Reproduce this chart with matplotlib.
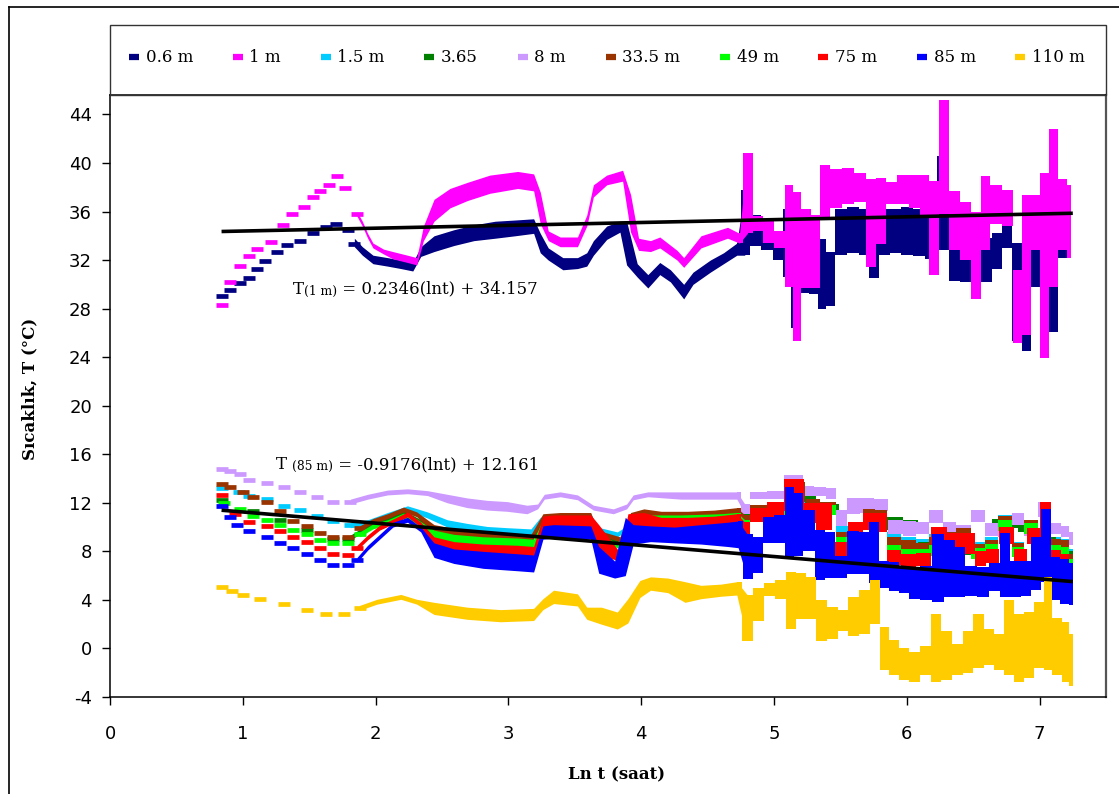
import numpy as np
import matplotlib.pyplot as plt
from matplotlib.lines import Line2D
from matplotlib.patches import Rectangle

plt.rcParams['axes.unicode_minus'] = False

# each row: ln t (saat), lowest and highest reading of the dash cluster at that time
T06 = [(0.84, 29.0, 29.0), (0.90, 29.5, 29.5), (0.98, 30.1, 30.1), (1.05, 30.5, 30.5),
       (1.11, 31.3, 31.3), (1.17, 31.9, 31.9), (1.26, 32.7, 32.7), (1.33, 33.2, 33.2),
       (1.43, 33.6, 33.6), (1.53, 34.2, 34.2), (1.63, 34.7, 34.7), (1.70, 35.0, 35.0),
       (1.79, 34.5, 34.8), (1.84, 33.3, 33.6), (1.90, 32.6, 32.9), (1.98, 31.9, 32.2),
       (2.09, 31.7, 32.0), (2.19, 31.5, 31.8), (2.28, 31.3, 31.6), (2.34, 32.5, 32.9),
       (2.44, 32.9, 33.8), (2.59, 33.4, 34.3), (2.74, 33.8, 34.7), (2.90, 34.0, 35.0),
       (3.05, 34.2, 35.1), (3.19, 34.4, 35.2), (3.24, 32.8, 34.0), (3.30, 32.2, 32.8),
       (3.41, 31.4, 32.0), (3.52, 31.5, 32.0), (3.59, 31.7, 32.4), (3.64, 32.6, 33.4),
       (3.74, 33.9, 34.6), (3.84, 34.5, 35.0), (3.89, 31.8, 35.0), (3.97, 30.8, 31.5),
       (4.05, 29.9, 30.6), (4.14, 31.0, 31.6), (4.22, 30.4, 31.0), (4.32, 29.0, 29.8),
       (4.39, 30.2, 30.8), (4.52, 31.2, 31.8), (4.62, 31.9, 32.4), (4.72, 32.6, 33.2),
       (4.78, 32.6, 37.6), (4.86, 33.4, 35.5), (4.95, 33.0, 34.2), (5.03, 32.2, 33.8),
       (5.10, 30.8, 36.0), (5.16, 26.6, 35.5), (5.22, 29.5, 34.8), (5.30, 29.4, 35.5),
       (5.37, 28.2, 33.5), (5.42, 28.4, 32.5), (5.50, 32.6, 36.0), (5.60, 32.8, 36.2),
       (5.68, 32.6, 36.0), (5.75, 30.7, 34.5), (5.83, 32.6, 36.0), (5.92, 32.8, 36.0),
       (6.00, 32.6, 36.2), (6.10, 32.5, 36.0), (6.18, 32.3, 35.8), (6.28, 33.0, 40.4),
       (6.36, 30.5, 35.0), (6.44, 30.4, 34.2), (6.52, 31.5, 33.8), (6.60, 30.4, 33.6),
       (6.68, 31.5, 34.0), (6.76, 33.2, 35.4), (6.83, 25.5, 33.2), (6.90, 24.7, 30.0),
       (6.97, 30.0, 34.6), (7.04, 27.0, 34.0), (7.10, 26.3, 35.2), (7.17, 32.4, 35.4),
       (7.24, 32.6, 35.2)]

T1 = [(0.84, 28.3, 28.3), (0.90, 30.2, 30.2), (0.98, 31.5, 31.5), (1.05, 32.3, 32.3),
      (1.11, 32.9, 32.9), (1.21, 33.5, 33.5), (1.30, 34.9, 34.9), (1.37, 35.8, 35.8),
      (1.46, 36.4, 36.4), (1.53, 37.2, 37.2), (1.58, 37.7, 37.7), (1.65, 38.2, 38.2),
      (1.71, 38.9, 38.9), (1.77, 37.9, 38.7), (1.86, 35.8, 35.8), (1.90, 35.0, 35.0),
      (1.94, 34.0, 34.0), (1.98, 33.2, 33.2), (2.06, 32.7, 32.7), (2.13, 32.3, 32.5),
      (2.24, 32.0, 32.2), (2.31, 31.8, 32.0), (2.36, 33.8, 34.6), (2.44, 35.4, 36.8),
      (2.56, 36.5, 37.7), (2.69, 37.1, 38.2), (2.86, 37.7, 38.8), (3.07, 38.1, 39.1),
      (3.19, 37.9, 38.9), (3.24, 35.2, 37.4), (3.30, 33.8, 34.2), (3.39, 33.3, 33.7),
      (3.52, 33.3, 33.7), (3.59, 35.0, 35.5), (3.64, 37.4, 38.0), (3.74, 38.4, 38.8),
      (3.86, 38.7, 39.2), (3.92, 34.5, 37.2), (3.98, 33.0, 33.6), (4.07, 32.9, 33.4),
      (4.14, 33.2, 33.7), (4.27, 32.2, 32.6), (4.32, 31.6, 32.0), (4.45, 33.2, 33.8),
      (4.65, 34.0, 34.5), (4.74, 33.6, 34.0), (4.80, 34.4, 40.6), (4.88, 34.6, 35.4),
      (4.95, 33.6, 35.0), (5.05, 33.2, 34.2), (5.12, 30.0, 38.0), (5.17, 25.5, 37.4),
      (5.24, 29.9, 36.0), (5.31, 29.9, 35.5), (5.38, 35.5, 39.6), (5.46, 36.5, 39.3),
      (5.56, 36.8, 39.4), (5.65, 37.0, 39.0), (5.73, 31.6, 38.5), (5.80, 33.5, 38.6),
      (5.88, 36.8, 38.2), (5.97, 36.8, 38.8), (6.06, 36.5, 38.8), (6.14, 35.8, 38.8),
      (6.20, 31.0, 38.3), (6.28, 36.0, 45.0), (6.36, 33.0, 37.5), (6.44, 32.2, 36.6),
      (6.52, 29.0, 35.8), (6.59, 33.0, 38.7), (6.67, 35.2, 38.0), (6.76, 35.0, 37.6),
      (6.84, 25.4, 31.0), (6.90, 26.0, 37.2), (6.97, 33.0, 37.2), (7.04, 24.1, 39.0),
      (7.10, 30.0, 42.6), (7.17, 33.0, 38.5), (7.24, 32.4, 38.0)]

T15 = [(0.84, 13.2, 13.2), (0.97, 12.9, 12.9), (1.05, 12.6, 12.6), (1.18, 12.3, 12.3),
       (1.31, 11.7, 11.7), (1.43, 11.4, 11.4), (1.56, 10.95, 10.95), (1.68, 10.5, 10.5),
       (1.81, 10.15, 10.15), (1.94, 10.4, 10.4), (2.09, 11.0, 11.0), (2.24, 11.55, 11.55),
       (2.39, 10.95, 11.05), (2.54, 10.2, 10.4), (2.69, 9.9, 10.1), (2.84, 9.65, 9.85),
       (2.99, 9.55, 9.75), (3.17, 9.45, 9.65), (3.24, 10.6, 10.6), (3.34, 10.9, 10.9),
       (3.62, 10.9, 10.9), (3.67, 9.8, 9.8), (3.82, 9.4, 9.4), (3.92, 10.1, 10.1),
       (4.02, 11.0, 11.0), (4.30, 11.0, 11.0), (4.55, 11.0, 11.0), (4.72, 11.2, 11.2),
       (4.78, 10.8, 11.0), (4.86, 11.5, 11.5), (5.03, 11.6, 11.6), (5.12, 12.6, 13.2),
       (5.20, 12.6, 13.2), (5.25, 11.9, 12.0), (5.43, 11.6, 11.8), (5.50, 9.6, 9.9),
       (5.62, 10.0, 10.2), (5.72, 10.9, 11.2), (5.80, 10.8, 11.1), (5.90, 9.0, 9.4),
       (6.02, 8.6, 9.0), (6.12, 8.4, 8.8), (6.22, 8.9, 9.2), (6.32, 9.0, 9.5),
       (6.42, 9.2, 9.6), (6.54, 8.2, 8.6), (6.64, 8.6, 9.0), (6.74, 10.3, 10.8),
       (6.84, 8.2, 8.6), (6.93, 10.0, 10.4), (7.04, 9.0, 9.4), (7.12, 8.6, 9.0),
       (7.20, 8.4, 8.8), (7.25, 7.4, 8.0)]

T365 = [(0.84, 12.2, 12.2), (1.08, 11.3, 11.3), (1.28, 10.6, 10.6), (1.48, 9.8, 9.8),
        (1.68, 9.0, 9.0), (1.79, 9.0, 9.0), (1.98, 10.3, 10.3), (2.21, 11.2, 11.2),
        (2.44, 9.6, 9.8), (2.77, 9.0, 9.2), (3.17, 8.9, 9.1), (3.26, 10.5, 10.5),
        (3.62, 10.6, 10.6), (3.67, 9.4, 9.4), (3.84, 8.6, 8.6), (3.92, 10.6, 10.6),
        (4.30, 10.8, 10.9), (4.72, 10.9, 11.1), (5.03, 11.2, 11.4), (5.20, 12.3, 13.0),
        (5.43, 11.4, 11.7), (5.55, 9.0, 9.3), (5.80, 10.7, 11.0), (5.90, 10.0, 10.6),
        (6.05, 9.9, 10.4), (6.12, 8.3, 8.6), (6.32, 8.9, 9.2), (6.54, 7.9, 8.2),
        (6.74, 10.1, 10.5), (6.93, 9.8, 10.2), (7.04, 8.8, 9.0), (7.20, 8.1, 8.5),
        (7.25, 7.2, 7.8)]

T8 = [(0.84, 14.8, 14.8), (0.90, 14.6, 14.6), (0.98, 14.35, 14.35), (1.05, 13.9, 13.9),
      (1.18, 13.6, 13.6), (1.31, 13.3, 13.3), (1.43, 12.9, 12.9), (1.56, 12.45, 12.45),
      (1.68, 12.05, 12.05), (1.81, 12.1, 12.1), (1.94, 12.5, 12.5), (2.09, 12.85, 12.85),
      (2.24, 12.95, 12.95), (2.39, 12.8, 12.8), (2.54, 12.2, 12.5), (2.69, 11.8, 12.2),
      (2.84, 11.6, 12.0), (2.99, 11.5, 11.9), (3.14, 11.3, 11.6), (3.22, 11.7, 11.7),
      (3.27, 12.5, 12.5), (3.39, 12.7, 12.7), (3.52, 12.45, 12.45), (3.64, 11.6, 11.6),
      (3.79, 11.3, 11.3), (3.89, 11.7, 11.7), (3.94, 12.45, 12.45), (4.05, 12.7, 12.7),
      (4.30, 12.5, 12.7), (4.55, 12.5, 12.7), (4.72, 12.5, 12.7), (4.78, 11.3, 11.7),
      (4.86, 12.5, 12.7), (5.03, 12.5, 12.8), (5.12, 12.5, 14.1), (5.18, 12.5, 14.1),
      (5.25, 12.8, 13.2), (5.35, 12.8, 13.1), (5.43, 12.5, 13.0), (5.50, 10.3, 11.2),
      (5.60, 11.3, 12.2), (5.70, 11.4, 12.2), (5.80, 11.5, 12.1), (5.92, 9.6, 10.4),
      (6.02, 9.5, 10.3), (6.12, 9.6, 10.2), (6.22, 10.5, 11.2), (6.32, 9.6, 10.2),
      (6.42, 9.4, 10.0), (6.54, 10.6, 11.2), (6.64, 9.5, 10.1), (6.74, 9.4, 10.0),
      (6.84, 10.4, 11.0), (6.93, 9.5, 10.0), (7.04, 11.0, 11.9), (7.12, 9.6, 10.1),
      (7.20, 9.4, 9.9), (7.25, 8.7, 9.4)]

T335 = [(0.84, 13.55, 13.55), (0.90, 13.3, 13.3), (1.00, 12.85, 12.85), (1.08, 12.45, 12.45),
        (1.18, 12.05, 12.05), (1.28, 11.3, 11.3), (1.38, 10.5, 10.5), (1.48, 10.05, 10.05),
        (1.58, 9.55, 9.55), (1.68, 9.15, 9.15), (1.79, 9.2, 9.2), (1.88, 9.9, 9.9),
        (1.98, 10.5, 10.5), (2.09, 10.9, 10.9), (2.21, 11.45, 11.45), (2.31, 11.05, 11.05),
        (2.44, 9.6, 10.0), (2.59, 9.3, 9.7), (2.77, 9.0, 9.4), (2.94, 8.9, 9.3),
        (3.17, 8.9, 9.2), (3.26, 10.8, 10.9), (3.39, 10.8, 11.0), (3.62, 10.8, 11.0),
        (3.67, 9.55, 9.55), (3.84, 9.0, 9.0), (3.92, 11.0, 11.0), (4.02, 11.3, 11.3),
        (4.15, 10.9, 11.1), (4.35, 10.9, 11.1), (4.55, 10.9, 11.2), (4.72, 11.1, 11.4),
        (4.78, 10.5, 10.8), (4.86, 11.3, 11.6), (5.03, 11.4, 11.7), (5.12, 12.5, 13.5),
        (5.20, 12.5, 13.5), (5.26, 11.7, 12.1), (5.43, 11.5, 11.9), (5.50, 9.0, 9.4),
        (5.62, 9.6, 10.0), (5.72, 10.9, 11.3), (5.80, 10.8, 11.2), (5.90, 8.6, 9.0),
        (6.02, 8.3, 8.7), (6.12, 8.1, 8.5), (6.22, 8.6, 9.0), (6.32, 9.0, 9.4),
        (6.42, 9.3, 9.7), (6.54, 8.0, 8.4), (6.64, 8.3, 8.7), (6.74, 10.3, 10.7),
        (6.84, 8.1, 8.5), (6.93, 10.0, 10.4), (7.04, 8.6, 9.0), (7.12, 8.5, 8.8),
        (7.20, 8.3, 8.7), (7.25, 7.0, 7.6)]

T49 = [(0.86, 12.0, 12.0), (0.98, 11.45, 11.45), (1.08, 10.9, 10.9), (1.18, 10.55, 10.55),
       (1.28, 10.2, 10.2), (1.38, 9.8, 9.8), (1.48, 9.4, 9.4), (1.58, 8.95, 8.95),
       (1.68, 8.65, 8.65), (1.79, 8.7, 8.7), (1.88, 9.4, 9.4), (1.98, 10.05, 10.05),
       (2.09, 10.4, 10.4), (2.21, 10.95, 10.95), (2.31, 10.45, 10.45), (2.44, 9.0, 9.55),
       (2.59, 8.7, 9.2), (2.81, 8.4, 9.0), (3.07, 8.4, 8.9), (3.19, 8.3, 8.8),
       (3.26, 10.2, 10.4), (3.39, 10.3, 10.6), (3.62, 10.3, 10.6), (3.67, 9.2, 9.2),
       (3.84, 8.4, 8.4), (3.92, 10.3, 10.3), (4.02, 10.6, 10.8), (4.30, 10.5, 10.8),
       (4.60, 10.5, 10.9), (4.72, 10.7, 11.0), (4.78, 10.0, 10.4), (4.86, 10.9, 11.3),
       (5.03, 11.0, 11.4), (5.15, 12.2, 13.2), (5.26, 11.4, 11.8), (5.43, 11.2, 11.6),
       (5.50, 8.6, 9.0), (5.62, 9.2, 9.7), (5.72, 10.6, 11.0), (5.80, 10.5, 10.9),
       (5.90, 7.6, 8.3), (6.02, 7.4, 8.0), (6.12, 7.4, 8.0), (6.22, 7.8, 8.3),
       (6.32, 8.6, 9.1), (6.42, 8.9, 9.3), (6.54, 7.6, 8.1), (6.64, 7.9, 8.4),
       (6.74, 9.9, 10.4), (6.84, 7.7, 8.2), (6.93, 9.6, 10.1), (7.04, 8.2, 8.7),
       (7.12, 7.6, 8.3), (7.20, 7.5, 8.2), (7.25, 6.5, 7.2)]

T75 = [(0.84, 12.65, 12.65), (0.94, 11.05, 11.05), (1.05, 10.45, 10.45), (1.18, 10.05, 10.05),
       (1.28, 9.65, 9.65), (1.38, 9.2, 9.2), (1.48, 8.75, 8.75), (1.58, 8.3, 8.3),
       (1.68, 7.8, 7.8), (1.79, 7.7, 7.7), (1.86, 8.3, 8.3), (1.94, 9.15, 9.15),
       (2.03, 9.95, 9.95), (2.13, 10.45, 10.45), (2.24, 11.05, 11.05), (2.34, 10.2, 10.2),
       (2.44, 8.3, 9.0), (2.59, 8.0, 8.6), (2.81, 7.7, 8.4), (3.07, 7.6, 8.3),
       (3.19, 7.5, 8.2), (3.26, 9.8, 10.7), (3.34, 9.9, 10.8), (3.62, 9.8, 10.8),
       (3.68, 7.9, 10.0), (3.84, 7.4, 7.7), (3.90, 10.0, 10.9), (4.02, 10.2, 11.0),
       (4.15, 9.9, 10.6), (4.35, 9.9, 10.6), (4.55, 10.0, 10.7), (4.72, 10.2, 10.9),
       (4.78, 8.6, 10.2), (4.86, 10.6, 11.4), (5.03, 10.8, 11.9), (5.12, 11.5, 13.8),
       (5.19, 11.5, 13.8), (5.26, 10.5, 11.8), (5.38, 10.0, 11.8), (5.50, 7.6, 8.6),
       (5.62, 9.0, 10.2), (5.72, 10.0, 11.0), (5.80, 9.8, 11.0), (5.90, 7.1, 7.9),
       (6.02, 6.9, 7.6), (6.12, 7.0, 7.7), (6.24, 8.8, 9.8), (6.36, 8.5, 9.3),
       (6.46, 8.0, 9.3), (6.56, 7.0, 7.8), (6.64, 7.2, 8.0), (6.75, 8.8, 9.8),
       (6.86, 7.3, 8.0), (6.95, 8.8, 9.7), (7.05, 9.0, 11.9), (7.12, 7.0, 7.9),
       (7.20, 6.9, 7.6), (7.25, 5.3, 6.5)]

T85 = [(0.84, 11.7, 11.7), (0.90, 10.8, 10.8), (0.96, 10.2, 10.2), (1.05, 9.65, 9.65),
       (1.18, 9.2, 9.2), (1.28, 8.7, 8.7), (1.38, 8.3, 8.3), (1.48, 7.8, 7.8),
       (1.58, 7.3, 7.3), (1.68, 6.85, 6.85), (1.79, 6.85, 6.85), (1.86, 7.3, 7.3),
       (1.94, 8.3, 8.3), (2.03, 9.2, 9.2), (2.13, 10.2, 10.2), (2.24, 10.6, 10.6),
       (2.34, 9.8, 9.8), (2.44, 7.7, 8.5), (2.59, 7.2, 8.0), (2.81, 6.8, 7.8),
       (3.07, 6.6, 7.6), (3.19, 6.5, 7.5), (3.26, 9.2, 9.9), (3.34, 9.3, 10.0),
       (3.62, 9.2, 9.9), (3.68, 6.4, 8.2), (3.80, 6.0, 7.0), (3.88, 6.2, 10.6),
       (3.94, 8.8, 10.0), (4.07, 9.0, 9.9), (4.25, 8.9, 9.8), (4.45, 8.8, 10.0),
       (4.65, 8.6, 10.2), (4.73, 8.5, 10.3), (4.80, 5.9, 9.2), (4.88, 6.4, 9.0),
       (4.95, 8.9, 10.6), (5.05, 8.9, 10.8), (5.12, 7.6, 13.1), (5.18, 7.8, 12.6),
       (5.26, 8.2, 11.2), (5.35, 5.8, 9.6), (5.42, 6.0, 9.4), (5.50, 6.0, 7.4),
       (5.60, 6.3, 9.5), (5.68, 6.3, 9.4), (5.75, 5.6, 10.2), (5.83, 5.2, 7.0),
       (5.90, 4.9, 6.9), (5.98, 4.8, 6.5), (6.06, 4.3, 6.5), (6.14, 4.2, 6.6),
       (6.24, 4.0, 9.2), (6.32, 4.4, 8.7), (6.40, 4.4, 8.2), (6.48, 4.5, 6.6),
       (6.58, 4.4, 6.5), (6.66, 4.9, 6.8), (6.74, 4.4, 9.3), (6.82, 4.4, 7.0),
       (6.90, 4.5, 7.0), (6.97, 5.0, 9.0), (7.05, 5.7, 11.3), (7.12, 4.2, 7.3),
       (7.19, 3.9, 7.2), (7.25, 3.8, 6.8)]

T110 = [(0.84, 5.1, 5.1), (0.92, 4.7, 4.7), (1.00, 4.4, 4.4), (1.13, 4.1, 4.1),
        (1.31, 3.7, 3.7), (1.48, 3.2, 3.2), (1.63, 2.8, 2.8), (1.76, 2.8, 2.8),
        (1.88, 3.35, 3.35), (2.01, 3.85, 3.85), (2.19, 4.25, 4.25), (2.31, 3.85, 3.85),
        (2.44, 3.0, 3.6), (2.69, 2.6, 3.2), (2.94, 2.4, 3.0), (3.19, 2.5, 3.1),
        (3.26, 3.4, 3.9), (3.34, 3.9, 4.6), (3.52, 3.7, 4.3), (3.59, 2.6, 3.2),
        (3.70, 2.2, 3.2), (3.82, 1.8, 2.8), (3.90, 2.3, 3.9), (3.99, 4.4, 5.4),
        (4.07, 5.0, 5.7), (4.20, 4.8, 5.6), (4.33, 4.0, 5.3), (4.45, 4.3, 5.0),
        (4.60, 4.5, 5.1), (4.72, 4.6, 5.3), (4.80, 0.8, 4.2), (4.88, 2.5, 4.8),
        (4.97, 4.5, 5.2), (5.05, 4.3, 5.4), (5.13, 1.8, 6.1), (5.20, 2.6, 6.0),
        (5.28, 2.6, 5.7), (5.36, 0.8, 3.8), (5.44, 1.0, 3.2), (5.52, 1.6, 3.0),
        (5.60, 1.2, 4.0), (5.68, 1.4, 4.6), (5.76, 2.2, 5.4), (5.83, -1.6, 1.6),
        (5.90, -2.0, 0.5), (5.98, -2.4, -0.2), (6.06, -2.6, -0.5), (6.14, -2.0, 0.0),
        (6.22, -2.6, 2.6), (6.30, -2.4, 1.2), (6.38, -2.0, 0.2), (6.46, -1.8, 1.2),
        (6.54, -1.4, 2.6), (6.62, -1.2, 1.4), (6.70, -1.6, 1.0), (6.77, -2.0, 3.8),
        (6.85, -2.6, 2.6), (6.92, -2.2, 2.8), (7.00, -1.4, 3.6), (7.06, -1.6, 5.7),
        (7.13, -2.0, 2.3), (7.20, -2.6, 2.0), (7.25, -2.9, 1.0)]

LABELS = ["0.6 m", "1 m", "1.5 m", "3.65", "8 m", "33.5 m", "49 m", "75 m", "85 m", "110 m"]
SERIES = [T06, T1, T15, T365, T8, T335, T49, T75, T85, T110]
COLORS = ["#000080", "#FF00FF", "#00CCFF", "#008000", "#CC99FF",
          "#993300", "#00FF00", "#FF0000", "#0000FF", "#FFCC00"]

# fitted trend lines, T = a*ln(t) + b
TREND_X = [0.84, 7.25]
FIT_1M = (0.2346, 34.157)
FIT_85M = (-0.9176, 12.161)

DASH = 0.2      # half height of an Excel dash marker, in degC
SPARSE = 1.9    # before this ln t the readings show as separate dashes
NOISY = 4.75    # after this ln t the dashes pile up in columns

W, H = 1119, 794
fig = plt.figure(figsize=(W / 100, H / 100), dpi=100)
ax = fig.add_axes([110 / W, 1 - 697 / H, (1106 - 110) / W, (697 - 95) / H])

for rows, col in zip(SERIES, COLORS):
    a = np.array(rows)
    x = a[:, 0]
    early = x < SPARSE
    ax.plot(x[early], a[early, 1], ls='none', marker='_', ms=9, mew=3.4,
            color=col, zorder=2)
    i0 = max(int(early.sum()) - 1, 0)
    i1 = int((x < NOISY).sum())
    m = a[i0:i1 + 1]
    ax.fill_between(m[:, 0], m[:, 1] - DASH, m[:, 2] + DASH, color=col, lw=0, zorder=2)
    n = a[i1 - 1:]
    ax.fill_between(n[:, 0], n[:, 1] - DASH, n[:, 2] + DASH, step='mid',
                    color=col, lw=0, zorder=2)

tx = np.array(TREND_X)
for a_, b_ in (FIT_1M, FIT_85M):
    ax.plot(tx, a_ * tx + b_, color='black', lw=2.6, zorder=5, solid_capstyle='butt')

ax.set_xlim(0, 7.5)
ax.set_ylim(-4, 45.6)
ax.set_xticks(range(0, 8))
ax.set_yticks(range(-4, 45, 4))
ax.tick_params(direction='out', length=6, width=1, labelsize=13, colors='black')
ax.tick_params(axis='x', pad=14)
ax.tick_params(axis='y', pad=7)
for s in ax.spines.values():
    s.set_linewidth(1.1)
ax.spines['right'].set_color('#555555')
ax.spines['right'].set_linewidth(1.6)


def equation(x, y, head, sub, rest):
    t = ax.text(x, y, head, family='DejaVu Serif', fontsize=12, va='center', zorder=6)
    s = ax.annotate(sub, xy=(1, 0), xycoords=t, va='bottom', family='DejaVu Serif',
                    fontsize=8.8, zorder=6)
    ax.annotate(rest, xy=(1, 0), xycoords=s, va='bottom', family='DejaVu Serif',
                fontsize=12, zorder=6)
    return t


equation(1.38, 29.6, "T", "(1 m)", " = 0.2346(lnt) + 34.157")
equation(1.25, 15.15, "T ", "(85 m)", " = -0.9176(lnt) + 12.161")

fig.text(30 / W, 1 - 389 / H, "Sıcaklık, T (°C)", rotation=90, ha='center', va='center',
         family='DejaVu Serif', fontweight='bold', fontsize=12)
fig.text(617 / W, 1 - 775 / H, "Ln t (saat)", ha='center', va='center',
         family='DejaVu Serif', fontweight='bold', fontsize=12)

# chart frame and legend box
fig.add_artist(Line2D([9 / W, 9 / W], [0, 1 - 7 / H], transform=fig.transFigure,
                      color='black', lw=1.2))
fig.add_artist(Line2D([9 / W, 1], [1 - 7 / H, 1 - 7 / H], transform=fig.transFigure,
                      color='black', lw=1.2))
fig.add_artist(Rectangle((110 / W, 1 - 95 / H), (1106 - 110) / W, 70 / H,
                         transform=fig.transFigure, fill=False, ec='#333333', lw=1))

handles = [Line2D([], [], color=c, lw=4.5, solid_capstyle='butt') for c in COLORS]
fig.legend(handles, LABELS, ncol=10, loc='center', bbox_to_anchor=(607 / W, 1 - 58 / H),
           frameon=False, handlelength=0.6, handletextpad=0.4, columnspacing=2.38,
           prop={'family': 'DejaVu Serif', 'size': 12})

fig.savefig("out.png", dpi=100)
